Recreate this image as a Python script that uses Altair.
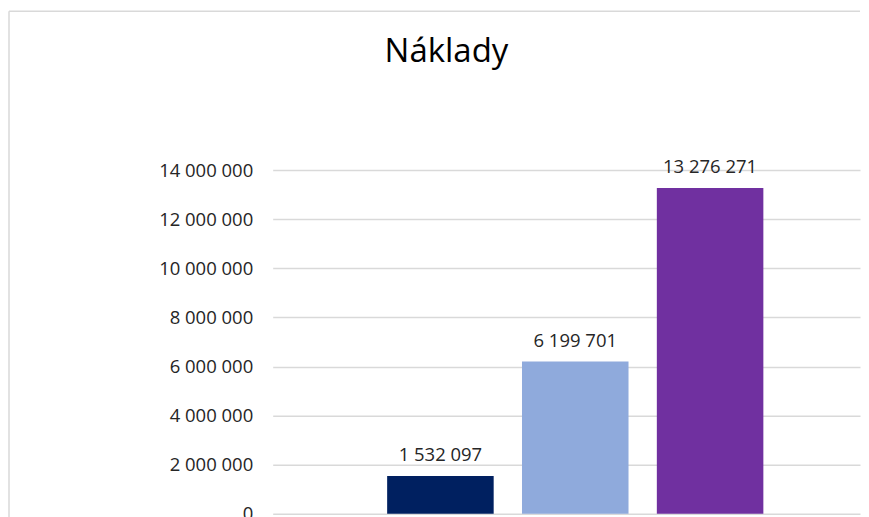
import altair as alt
import pandas as pd

# ---- data ----
categories = ["Položka 1", "Položka 2", "Položka 3"]
values = [1532097, 6199701, 13276271]
bar_colors = ["#002060", "#8FAADC", "#7030A0"]
y_ticks = [0, 2000000, 4000000, 6000000, 8000000, 10000000, 12000000, 14000000]
title_text = ["Náklady"]

labels = [f"{v:,}".replace(",", " ") for v in values]
df = pd.DataFrame({"cat": categories, "value": values, "label": labels})

W, H = 588, 344
FONT = "Open Sans"
GRAY = "#D9D9D9"
TXT = "#262626"

x_scale = alt.Scale(domain=categories, paddingInner=0.21, paddingOuter=0.7828,
                    align=0.5422, round=False)
y_scale = alt.Scale(domain=[0, 14000000], nice=False)

base = alt.Chart(df)

bars = base.mark_bar().encode(
    x=alt.X("cat:N", scale=x_scale, axis=None, sort=categories),
    y=alt.Y("value:Q", scale=y_scale,
            axis=alt.Axis(values=y_ticks, title=None, domain=False, ticks=False,
                          labelPadding=20, labelFont=FONT, labelFontSize=18.5,
                          labelColor=TXT, gridColor=GRAY, gridWidth=1.5,
                          labelExpr="replace(replace(format(datum.value, ','), ',', ' '), ',', ' ')")),
    color=alt.Color("cat:N", scale=alt.Scale(domain=categories, range=bar_colors), legend=None),
)

text = base.mark_text(font=FONT, fontSize=18.5, color=TXT, baseline="alphabetic",
                      align="center", dy=-15).encode(
    x=alt.X("cat:N", scale=x_scale, sort=categories),
    y=alt.Y("value:Q", scale=y_scale),
    text="label:N",
)

one = alt.Chart(pd.DataFrame({"t": title_text}))

title = one.mark_text(font=FONT, fontSize=33, color="#000000", baseline="alphabetic",
                      align="center").encode(
    x=alt.value(174), y=alt.value(-108), text="t:N")

border_top = one.mark_rule(color=GRAY, strokeWidth=1.5).encode(
    x=alt.value(-264), x2=alt.value(W), y=alt.value(-159))
border_left = one.mark_rule(color=GRAY, strokeWidth=1.5).encode(
    x=alt.value(-264), y=alt.value(-159), y2=alt.value(H + 10))

chart = alt.layer(border_top, border_left, bars, text, title).properties(
    width=W, height=H,
    padding={"left": 0, "top": 2, "right": 0, "bottom": 0},
    background="white",
).configure_view(stroke=None)

chart.save("out.html", embed_options={"renderer": "svg", "actions": False})
